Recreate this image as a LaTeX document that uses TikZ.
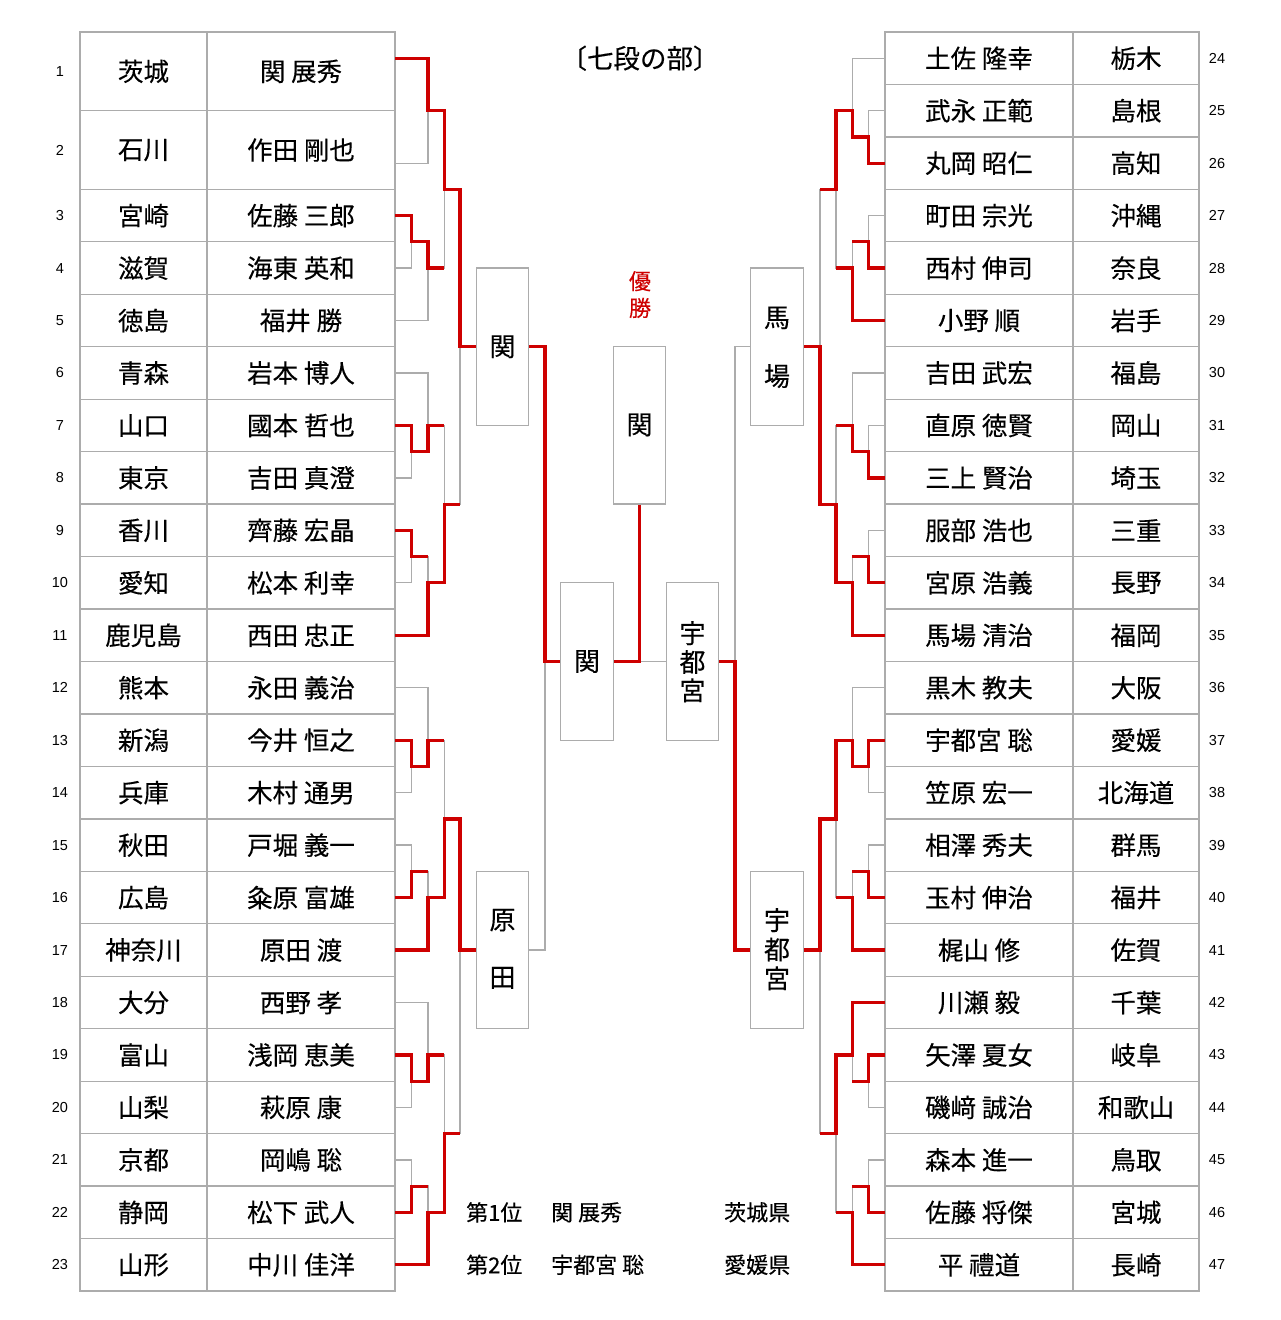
\documentclass[tikz,border=0pt]{standalone}
\usepackage{fontspec}
\setmainfont{Noto Sans CJK JP}[FakeBold=0.25]
\newfontfamily\numfont{Liberation Sans}
\definecolor{gl}{RGB}{172,172,172}
\definecolor{rd}{RGB}{206,0,0}
\pgfdeclarelayer{bg}
\pgfsetlayers{bg,main}
\def\LA{411.7}\def\LB{428}\def\LC{444.3}\def\LD{460}\def\LE{545}
\def\RA{868.7}\def\RB{852.3}\def\RC{836}\def\RD{820}\def\RE{735}
\newcommand\brk[5]{\draw[gline] (#1,#2) -- (#5,#2) -- (#5,#4) -- (#3,#4);}
\newcommand\Lrow[4]{\node[num] (ln#1) at (60,#2) {#1};\node[txt] (lp#1) at (143.5,#2) {#3};\node[txt] (lm#1) at (301,#2) {#4};}
\newcommand\Rrow[4]{\node[num] (rn#1) at (1217,#2) {#1};\node[txt] (rm#1) at (979,#2) {#3};\node[txt] (rp#1) at (1136,#2) {#4};}
\begin{document}
\begin{tikzpicture}[x=1pt,y=-52.46pt,yshift=-32pt,
  gline/.style={draw=gl,line width=1.3pt},
  rline/.style={draw=rd,line width=3.2pt},
  tbl/.style={draw=gl,line width=1.3pt},
  box/.style={draw=gl,line width=1.3pt,fill=white,minimum width=52.5pt,minimum height=157.38pt,inner sep=0pt},
  txt/.style={font=\fontsize{25.5}{28}\selectfont,inner sep=0pt},
  btx/.style={font=\fontsize{26}{30}\selectfont,inner sep=0pt},
  num/.style={font=\numfont\fontsize{14.5}{16}\selectfont,inner sep=0pt},
  sm/.style={font=\fontsize{22}{24}\selectfont,inner sep=0pt,anchor=west}]
\useasboundingbox (0,-0.61) rectangle (1280,24.552);
% boxes
\node[box] (sL1) at (502.5,6.0) {};
\node[box] (sL2) at (502.5,17.5) {};
\node[box] (sR1) at (777,6.0) {};
\node[box] (sR2) at (777,17.5) {};
\node[box] (fL) at (587,12.0) {};
\node[box] (fR) at (692.5,12.0) {};
\node[box] (champ) at (639.5,7.5) {};
\begin{pgfonlayer}{bg}
% tables
\draw[tbl] (80,0) rectangle (395,24);
\draw[tbl] (207,0) -- (207,24);
\draw[tbl] (80,1.5) -- (395,1.5);
\foreach \k in {3,...,23} {\draw[tbl] (80,\k) -- (395,\k);}
\draw[tbl] (885,0) rectangle (1199,24);
\draw[tbl] (1073,0) -- (1073,24);
\foreach \k in {1,...,23} {\draw[tbl] (885,\k) -- (1199,\k);}
% grey bracket left
\brk{395}{0.5}{395}{2.5}{\LB}
\brk{395}{3.5}{395}{4.5}{\LA}
\brk{\LA}{4.0}{395}{5.5}{\LB}
\brk{\LB}{1.5}{\LB}{4.5}{\LC}
\brk{395}{7.5}{395}{8.5}{\LA}
\brk{395}{6.5}{\LA}{8.0}{\LB}
\brk{395}{9.5}{395}{10.5}{\LA}
\brk{\LA}{10.0}{395}{11.5}{\LB}
\brk{\LB}{7.5}{\LB}{10.5}{\LC}
\brk{\LC}{3.0}{\LC}{9.0}{\LD}
\brk{395}{13.5}{395}{14.5}{\LA}
\brk{395}{12.5}{\LA}{14.0}{\LB}
\brk{395}{15.5}{395}{16.5}{\LA}
\brk{\LA}{16.0}{395}{17.5}{\LB}
\brk{\LB}{13.5}{\LB}{16.5}{\LC}
\brk{395}{19.5}{395}{20.5}{\LA}
\brk{395}{18.5}{\LA}{20.0}{\LB}
\brk{395}{21.5}{395}{22.5}{\LA}
\brk{\LA}{22.0}{395}{23.5}{\LB}
\brk{\LB}{19.5}{\LB}{22.5}{\LC}
\brk{\LC}{15.0}{\LC}{21.0}{\LD}
\draw[gline] (\LD,6.0) -- (sL1.west);
\draw[gline] (\LD,17.5) -- (sL2.west);
\draw[gline] (sL1.east) -| (\LE,12.0) |- (sL2.east);
\draw[gline] (\LE,12.0) -- (fL.west);
% grey bracket right
\brk{885}{1.5}{885}{2.5}{\RA}
\brk{885}{0.5}{\RA}{2.0}{\RB}
\brk{885}{3.5}{885}{4.5}{\RA}
\brk{\RA}{4.0}{885}{5.5}{\RB}
\brk{\RB}{1.5}{\RB}{4.5}{\RC}
\brk{885}{7.5}{885}{8.5}{\RA}
\brk{885}{6.5}{\RA}{8.0}{\RB}
\brk{885}{9.5}{885}{10.5}{\RA}
\brk{\RA}{10.0}{885}{11.5}{\RB}
\brk{\RB}{7.5}{\RB}{10.5}{\RC}
\brk{\RC}{3.0}{\RC}{9.0}{\RD}
\brk{885}{13.5}{885}{14.5}{\RA}
\brk{885}{12.5}{\RA}{14.0}{\RB}
\brk{885}{15.5}{885}{16.5}{\RA}
\brk{\RA}{16.0}{885}{17.5}{\RB}
\brk{\RB}{13.5}{\RB}{16.5}{\RC}
\brk{885}{19.5}{885}{20.5}{\RA}
\brk{885}{18.5}{\RA}{20.0}{\RB}
\brk{885}{21.5}{885}{22.5}{\RA}
\brk{\RA}{22.0}{885}{23.5}{\RB}
\brk{\RB}{19.5}{\RB}{22.5}{\RC}
\brk{\RC}{15.0}{\RC}{21.0}{\RD}
\draw[gline] (\RD,6.0) -- (sR1.east);
\draw[gline] (\RD,17.5) -- (sR2.east);
\draw[gline] (sR1.west) -| (\RE,12.0) |- (sR2.west);
\draw[gline] (\RE,12.0) -- (fR.east);
\draw[gline] (fL.east) -- (fR.west);
% red left
\draw[rline] (395,0.5) -| (\LB,1.5) -| (\LC,3.0) -| (\LD,6.0) -- (sL1.west);
\draw[rline] (sL1.east) -| (\LE,12.0) -- (fL.west);
\draw[rline] (fL.east) -| (champ.south);
\draw[rline] (395,3.5) -| (\LA,4.0) -| (\LB,4.5) -- (\LC,4.5);
\draw[rline] (395,7.5) -| (\LA,8.0) -| (\LB,7.5) -- (\LC,7.5);
\draw[rline] (395,9.5) -| (\LA,10.0) -- (\LB,10.0);
\draw[rline] (395,11.5) -| (\LB,10.5) -| (\LC,9.0) -- (\LD,9.0);
\draw[rline] (395,13.5) -| (\LA,14.0) -| (\LB,13.5) -- (\LC,13.5);
\draw[rline] (395,16.5) -| (\LA,16.0) -- (\LB,16.0);
\draw[rline] (395,17.5) -| (\LB,16.5) -| (\LC,15.0) -| (\LD,17.5) -- (sL2.west);
\draw[rline] (395,19.5) -| (\LA,20.0) -| (\LB,19.5) -- (\LC,19.5);
\draw[rline] (395,22.5) -| (\LA,22.0) -- (\LB,22.0);
\draw[rline] (395,23.5) -| (\LB,22.5) -| (\LC,21.0) -- (\LD,21.0);
% red right
\draw[rline] (885,2.5) -| (\RA,2.0) -| (\RB,1.5) -| (\RC,3.0) -- (\RD,3.0);
\draw[rline] (885,4.5) -| (\RA,4.0) -- (\RB,4.0);
\draw[rline] (885,5.5) -| (\RB,4.5) -- (\RC,4.5);
\draw[rline] (885,8.5) -| (\RA,8.0) -| (\RB,7.5) -- (\RC,7.5);
\draw[rline] (885,10.5) -| (\RA,10.0) -- (\RB,10.0);
\draw[rline] (885,11.5) -| (\RB,10.5) -| (\RC,9.0) -| (\RD,6.0) -- (sR1.east);
\draw[rline] (885,13.5) -| (\RA,14.0) -| (\RB,13.5) -| (\RC,15.0) -| (\RD,17.5) -- (sR2.east);
\draw[rline] (sR2.west) -| (\RE,12.0) -- (fR.east);
\draw[rline] (885,16.5) -| (\RA,16.0) -- (\RB,16.0);
\draw[rline] (885,17.5) -| (\RB,16.5) -- (\RC,16.5);
\draw[rline] (885,18.5) -| (\RB,19.5) -| (\RC,21.0) -- (\RD,21.0);
\draw[rline] (885,19.5) -| (\RA,20.0) -- (\RB,20.0);
\draw[rline] (885,22.5) -| (\RA,22.0) -- (\RB,22.0);
\draw[rline] (885,23.5) -| (\RB,22.5) -- (\RC,22.5);
\end{pgfonlayer}
% box texts
\node[btx] (tsL1) at (502.5,6.0) {関};
\node[btx] (tsL2a) at (502.5,16.93) {原};
\node[btx] (tsL2b) at (502.5,18.03) {田};
\node[btx] (tsR1a) at (777,5.45) {馬};
\node[btx] (tsR1b) at (777,6.56) {場};
\node[btx] (tsR2a) at (777,16.93) {宇};
\node[btx] (tsR2b) at (777,17.49) {都};
\node[btx] (tsR2c) at (777,18.04) {宮};
\node[btx] (tfL) at (587,12.0) {関};
\node[btx] (tfRa) at (692.5,11.46) {宇};
\node[btx] (tfRb) at (692.5,12.01) {都};
\node[btx] (tfRc) at (692.5,12.55) {宮};
\node[btx] (tch) at (639.5,7.49) {関};
\node[font=\fontsize{22}{24}\selectfont,text=rd,inner sep=0pt] (yu1) at (640,4.75) {優};
\node[font=\fontsize{22}{24}\selectfont,text=rd,inner sep=0pt] (yu2) at (640,5.26) {勝};
\node[font=\fontsize{26.5}{28}\selectfont,inner sep=0pt] (title) at (640,0.5) {〔七段の部〕};
% bottom
\node[sm] (b1a) at (466,22.5) {第1位};
\node[sm] (b1b) at (551,22.5) {関 展秀};
\node[sm] (b1c) at (724,22.5) {茨城県};
\node[sm] (b2a) at (466,23.5) {第2位};
\node[sm] (b2b) at (551,23.5) {宇都宮 聡};
\node[sm] (b2c) at (724,23.5) {愛媛県};
% left rows
\Lrow{1}{0.75}{茨城}{関 展秀}
\Lrow{2}{2.25}{石川}{作田 剛也}
\Lrow{3}{3.5}{宮崎}{佐藤 三郎}
\Lrow{4}{4.5}{滋賀}{海東 英和}
\Lrow{5}{5.5}{徳島}{福井 勝}
\Lrow{6}{6.5}{青森}{岩本 博人}
\Lrow{7}{7.5}{山口}{國本 哲也}
\Lrow{8}{8.5}{東京}{吉田 真澄}
\Lrow{9}{9.5}{香川}{齊藤 宏晶}
\Lrow{10}{10.5}{愛知}{松本 利幸}
\Lrow{11}{11.5}{鹿児島}{西田 忠正}
\Lrow{12}{12.5}{熊本}{永田 義治}
\Lrow{13}{13.5}{新潟}{今井 恒之}
\Lrow{14}{14.5}{兵庫}{木村 通男}
\Lrow{15}{15.5}{秋田}{戸堀 義一}
\Lrow{16}{16.5}{広島}{粂原 富雄}
\Lrow{17}{17.5}{神奈川}{原田 渡}
\Lrow{18}{18.5}{大分}{西野 孝}
\Lrow{19}{19.5}{富山}{浅岡 恵美}
\Lrow{20}{20.5}{山梨}{萩原 康}
\Lrow{21}{21.5}{京都}{岡嶋 聡}
\Lrow{22}{22.5}{静岡}{松下 武人}
\Lrow{23}{23.5}{山形}{中川 佳洋}
% right rows
\Rrow{24}{0.5}{土佐 隆幸}{栃木}
\Rrow{25}{1.5}{武永 正範}{島根}
\Rrow{26}{2.5}{丸岡 昭仁}{高知}
\Rrow{27}{3.5}{町田 宗光}{沖縄}
\Rrow{28}{4.5}{西村 伸司}{奈良}
\Rrow{29}{5.5}{小野 順}{岩手}
\Rrow{30}{6.5}{吉田 武宏}{福島}
\Rrow{31}{7.5}{直原 徳賢}{岡山}
\Rrow{32}{8.5}{三上 賢治}{埼玉}
\Rrow{33}{9.5}{服部 浩也}{三重}
\Rrow{34}{10.5}{宮原 浩義}{長野}
\Rrow{35}{11.5}{馬場 清治}{福岡}
\Rrow{36}{12.5}{黒木 教夫}{大阪}
\Rrow{37}{13.5}{宇都宮 聡}{愛媛}
\Rrow{38}{14.5}{笠原 宏一}{北海道}
\Rrow{39}{15.5}{相澤 秀夫}{群馬}
\Rrow{40}{16.5}{玉村 伸治}{福井}
\Rrow{41}{17.5}{梶山 修}{佐賀}
\Rrow{42}{18.5}{川瀬 毅}{千葉}
\Rrow{43}{19.5}{矢澤 夏女}{岐阜}
\Rrow{44}{20.5}{磯﨑 誠治}{和歌山}
\Rrow{45}{21.5}{森本 進一}{鳥取}
\Rrow{46}{22.5}{佐藤 将傑}{宮城}
\Rrow{47}{23.5}{平 禮道}{長崎}
\end{tikzpicture}
\end{document}
